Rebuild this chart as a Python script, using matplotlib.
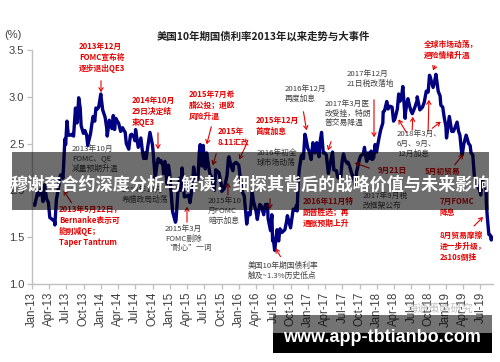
import matplotlib
matplotlib.use("Agg")
import matplotlib.pyplot as plt
import matplotlib.dates as mdates
from matplotlib.patches import Rectangle
import pandas as pd

W, H = 500, 362
CJK = ['Noto Sans CJK SC', 'DejaVu Sans']
LAT = ['Liberation Sans', 'DejaVu Sans']

dates = [
 "2013-01-02","2013-01-15","2013-01-31","2013-02-08","2013-02-20","2013-02-28","2013-03-08","2013-03-19","2013-03-29",
 "2013-04-05","2013-04-18","2013-04-30","2013-05-02","2013-05-10","2013-05-22","2013-05-31","2013-06-07","2013-06-14",
 "2013-06-24","2013-06-28","2013-07-05","2013-07-12","2013-07-24","2013-07-31","2013-08-09","2013-08-19","2013-08-27",
 "2013-08-30","2013-09-05","2013-09-13","2013-09-18","2013-09-30","2013-10-08","2013-10-17","2013-10-23","2013-10-31",
 "2013-11-07","2013-11-13","2013-11-20","2013-11-29","2013-12-05","2013-12-13","2013-12-20","2013-12-31",
 "2014-01-02","2014-01-10","2014-01-23","2014-01-31","2014-02-03","2014-02-14","2014-02-28","2014-03-07","2014-03-14",
 "2014-03-20","2014-03-31","2014-04-04","2014-04-15","2014-04-25","2014-04-30","2014-05-09","2014-05-15","2014-05-28",
 "2014-05-30","2014-06-06","2014-06-12","2014-06-24","2014-06-30","2014-07-03","2014-07-17","2014-07-31","2014-08-08",
 "2014-08-15","2014-08-22","2014-08-28","2014-09-05","2014-09-17","2014-09-30","2014-10-03","2014-10-15","2014-10-24",
 "2014-10-31","2014-11-07","2014-11-14","2014-11-25","2014-11-28","2014-12-05","2014-12-16","2014-12-24","2014-12-31",
 "2015-01-02","2015-01-15","2015-01-30","2015-02-02","2015-02-13","2015-02-20","2015-02-27","2015-03-06","2015-03-18",
 "2015-03-31","2015-04-10","2015-04-17","2015-04-30","2015-05-06","2015-05-15","2015-05-29","2015-06-05","2015-06-10",
 "2015-06-19","2015-06-26","2015-06-30","2015-07-07","2015-07-14","2015-07-24","2015-07-31","2015-08-11","2015-08-24",
 "2015-08-31","2015-09-11","2015-09-17","2015-09-30","2015-10-02","2015-10-15","2015-10-30","2015-11-06","2015-11-09",
 "2015-11-20","2015-11-30","2015-12-04","2015-12-16","2015-12-31",
 "2016-01-08","2016-01-20","2016-01-29","2016-02-11","2016-02-19","2016-02-29","2016-03-11","2016-03-18","2016-03-31",
 "2016-04-07","2016-04-20","2016-04-29","2016-05-11","2016-05-20","2016-05-31","2016-06-03","2016-06-16","2016-06-23",
 "2016-06-27","2016-06-30","2016-07-08","2016-07-20","2016-07-29","2016-08-05","2016-08-15","2016-08-31","2016-09-09",
 "2016-09-13","2016-09-30","2016-10-14","2016-10-26","2016-10-31","2016-11-04","2016-11-09","2016-11-15","2016-11-25",
 "2016-11-30","2016-12-07","2016-12-15","2016-12-20","2016-12-30",
 "2017-01-06","2017-01-17","2017-01-26","2017-01-31","2017-02-07","2017-02-15","2017-02-28","2017-03-03","2017-03-13",
 "2017-03-22","2017-03-31","2017-04-07","2017-04-18","2017-04-28","2017-05-10","2017-05-17","2017-05-31","2017-06-06",
 "2017-06-14","2017-06-23","2017-06-30","2017-07-07","2017-07-14","2017-07-26","2017-07-31","2017-08-08","2017-08-18",
 "2017-08-31","2017-09-07","2017-09-15","2017-09-29","2017-10-06","2017-10-20","2017-10-26","2017-10-31","2017-11-07",
 "2017-11-14","2017-11-24","2017-11-30","2017-12-06","2017-12-14","2017-12-21","2017-12-29",
 "2018-01-02","2018-01-10","2018-01-19","2018-01-31","2018-02-02","2018-02-09","2018-02-21","2018-02-28","2018-03-09",
 "2018-03-21","2018-03-29","2018-04-06","2018-04-18","2018-04-25","2018-04-30","2018-05-08","2018-05-17","2018-05-29",
 "2018-05-31","2018-06-08","2018-06-13","2018-06-22","2018-06-29","2018-07-06","2018-07-20","2018-07-31","2018-08-01",
 "2018-08-15","2018-08-29","2018-09-07","2018-09-18","2018-09-28","2018-10-05","2018-10-09","2018-10-24","2018-10-31",
 "2018-11-08","2018-11-20","2018-11-30","2018-12-04","2018-12-14","2018-12-21","2018-12-31",
 "2019-01-03","2019-01-18","2019-01-31","2019-02-08","2019-02-15","2019-02-28","2019-03-08","2019-03-15","2019-03-22",
 "2019-03-27","2019-04-05","2019-04-17","2019-04-30","2019-05-08","2019-05-13","2019-05-22","2019-05-31","2019-06-07",
 "2019-06-20","2019-06-28","2019-07-03","2019-07-12","2019-07-24","2019-07-31","2019-08-02","2019-08-07","2019-08-15",
 "2019-08-23","2019-08-28","2019-08-30",
]
yields = [
 1.86,1.84,1.98,1.95,2.02,1.88,2.06,1.91,1.87,
 1.71,1.69,1.67,1.63,1.90,2.04,2.16,2.17,2.13,
 2.55,2.49,2.74,2.59,2.59,2.60,2.58,2.88,2.72,
 2.78,2.99,2.88,2.69,2.61,2.64,2.59,2.48,2.55,
 2.61,2.70,2.79,2.74,2.88,2.87,2.89,3.03,
 2.99,2.86,2.78,2.67,2.58,2.75,2.66,2.80,2.65,
 2.77,2.73,2.72,2.63,2.67,2.65,2.62,2.50,2.44,
 2.48,2.59,2.60,2.57,2.53,2.65,2.46,2.56,2.42,
 2.34,2.40,2.34,2.46,2.62,2.49,2.43,2.13,2.27,
 2.34,2.30,2.32,2.26,2.18,2.31,2.07,2.27,2.17,
 2.11,1.77,1.66,1.68,2.02,2.13,2.00,2.24,1.93,
 1.94,1.95,1.87,2.05,2.25,2.14,2.12,2.41,2.49,
 2.26,2.48,2.35,2.23,2.40,2.26,2.18,2.13,2.00,
 2.22,2.20,2.19,2.06,1.99,2.02,2.16,2.34,2.36,
 2.26,2.21,2.28,2.30,2.27,
 2.13,1.98,1.94,1.64,1.76,1.74,1.98,1.88,1.78,
 1.69,1.85,1.83,1.74,1.85,1.85,1.70,1.57,1.74,
 1.46,1.49,1.36,1.58,1.46,1.59,1.55,1.58,1.67,
 1.73,1.60,1.80,1.79,1.84,1.78,2.07,2.22,2.36,
 2.38,2.34,2.60,2.56,2.45,
 2.42,2.33,2.51,2.45,2.40,2.51,2.36,2.49,2.62,
 2.40,2.40,2.38,2.18,2.29,2.41,2.22,2.21,2.14,
 2.13,2.15,2.31,2.39,2.33,2.29,2.30,2.26,2.19,
 2.12,2.05,2.20,2.33,2.37,2.39,2.46,2.38,2.31,
 2.40,2.34,2.42,2.33,2.35,2.49,2.41,
 2.46,2.55,2.64,2.72,2.84,2.85,2.95,2.87,2.90,
 2.89,2.74,2.77,2.87,3.03,2.95,2.97,3.11,2.77,
 2.83,2.94,2.98,2.90,2.85,2.82,2.89,2.96,3.00,
 2.86,2.89,2.94,3.06,3.05,3.23,3.21,3.10,3.15,
 3.24,3.06,3.01,2.91,2.89,2.79,2.68,
 2.56,2.79,2.63,2.63,2.66,2.73,2.63,2.59,2.44,
 2.38,2.50,2.59,2.50,2.48,2.40,2.38,2.13,2.08,
 2.03,2.00,1.95,2.12,2.04,2.02,1.86,1.71,1.53,
 1.52,1.47,1.50,
]

y_ticks = [1.0, 1.5, 2.0, 2.5, 3.0, 3.5]
title = "美国10年期国债利率2013年以来走势与大事件"
banner = "穆谢奎合约深度分析与解读：细探其背后的战略价值与未来影响"
site = "www.app-tbtianbo.com"

RED = "#e60000"
GRAY = "#404040"

# (x, y top in px, text, color, bold)
notes = [
 (79, 42, "2013年12月\nFOMC宣布将\n逐步退出QE3", RED, True),
 (132, 96, "2014年10月\n29日决定结\n束QE3", RED, True),
 (189, 90, "2015年7月希\n腊公投；退欧\n风险升温", RED, True),
 (218, 127, "2015年\n8.11汇改", RED, True),
 (256, 116, "2015年12月\n首度加息", RED, True),
 (424, 40, "全球市场动荡，\n避险情绪升温", RED, True),
 (59, 205, "2013年5月22日，\nBernanke表示可\n能削减QE；\nTaper Tantrum", RED, True),
 (303, 197, "2016年11月特\n朗普胜选；再\n通胀预期上升", RED, True),
 (440, 197, "7月FOMC\n降息", RED, True),
 (440, 231, "8月贸易摩擦\n进一步升级，\n2s10s倒挂", RED, True),
 (378, 166, "9月21日", RED, True),
 (425, 167, "5月初贸易", RED, True),
 (72, 145, "2013年10月\nFOMC、QE\n减量预期升温", GRAY, False),
 (122, 186, "2014年12月\n希腊政局动荡", GRAY, False),
 (165, 225, "2015年3月\nFOMC删除\n“耐心”一词", GRAY, False),
 (208, 197, "2015年10\n月FOMC\n暗示加息", GRAY, False),
 (285, 85, "2016年12月\n再度加息", GRAY, False),
 (325, 100, "2017年3月医\n改受挫，特朗\n普交易降温", GRAY, False),
 (347, 70, "2017年12月\n21日税改落地", GRAY, False),
 (397, 130, "2018年3月、\n6月、9月、\n12月加息", GRAY, False),
 (257, 149, "2016年初全\n球市场动荡", GRAY, False),
 (363, 192, "2017年9月税\n改框架公布", GRAY, False),
 (248, 262, "美国10年期国债利率\n触及~1.3%历史低点", GRAY, False),
]
# arrows: start px -> tip px
arrows = [
 ((101, 78), (101, 95), RED), ((158, 130), (158, 152), RED), ((212, 124), (206, 147), RED),
 ((217, 151), (212, 168), RED), ((248, 141), (238, 162), RED), ((436, 63), (432, 73), RED),
 ((73, 205), (62, 188), RED), ((270, 196), (270, 212), RED), ((472, 228), (485, 215), RED),
 ((372, 169), (352, 162), RED), ((453, 167), (465, 152), RED),
 ((187, 225), (187, 204), RED), ((228, 198), (228, 180), RED),
 ((303, 109), (307, 133), RED), ((332, 139), (327, 153), RED), ((374, 97), (374, 140), RED),
 ((408, 135), (397, 117), RED), ((412, 133), (413, 114), RED), ((428, 134), (429, 97), RED),
 ((430, 130), (443, 120), RED), ((282, 259), (274, 246), RED),
]

def fxy(px, py):
    return (px / W, 1 - py / H)

fig = plt.figure(figsize=(W / 100, H / 100), dpi=100)
ax = fig.add_axes([32 / W, 1 - 284 / H, (493 - 32) / W, (284 - 50) / H])

x = pd.to_datetime(dates)
ax.plot(x, yields, color="#000080", lw=2.4, solid_joinstyle="round")

ax.set_ylim(1.0, 3.5)
ax.set_xlim(pd.Timestamp("2013-01-01"), pd.Timestamp("2019-09-06"))
ax.set_yticks(y_ticks)
ax.set_yticklabels([f"{v:.1f}" for v in y_ticks], family=LAT, fontsize=8, color="#404040")
ax.xaxis.set_major_locator(mdates.MonthLocator(bymonth=[1, 4, 7, 10]))
ax.xaxis.set_major_formatter(mdates.DateFormatter("%b-%y"))
for lab in ax.get_xticklabels():
    lab.set_family(LAT)
plt.setp(ax.get_xticklabels(), rotation=90, fontsize=8.3, color="#404040")
ax.tick_params(axis="both", direction="out", length=3.5, width=0.9, color="#bfbfbf", pad=2)
for s in ["top", "right"]:
    ax.spines[s].set_visible(False)
for s in ["left", "bottom"]:
    ax.spines[s].set_color("#bfbfbf")
    ax.spines[s].set_linewidth(1.0)

for (px, py, txt, col, bold) in notes:
    fig.text(*fxy(px, py), txt, color=col, family=CJK, fontsize=5.6,
             fontweight="bold" if bold else "normal", ha="left", va="top", linespacing=1.28)
for (s, t, col) in arrows:
    fig.add_artist(matplotlib.patches.FancyArrowPatch(fxy(*s), fxy(*t), transform=fig.transFigure,
                   arrowstyle="->,head_length=2.5,head_width=1.5", color=col, lw=0.8))

fig.text(*fxy(263, 36), title, family=CJK, fontsize=7.5, fontweight="bold", color="#202020",
         ha="center", va="center")
fig.text(*fxy(4, 35), "(%)", family=LAT, fontsize=8, color="#404040", ha="left", va="center")

fig.text(*fxy(440, 308), "海通策略研究", family=CJK, fontsize=8, color="#999999", alpha=0.6,
         ha="center", va="center")

# banner overlay
fig.add_artist(Rectangle(fxy(12, 210), 477 / W, 58 / H, transform=fig.transFigure,
                         facecolor="black", alpha=0.57, edgecolor="none", zorder=10))
fig.text(*fxy(250, 185), banner, family=CJK, fontsize=12.3, fontweight="bold", color="white",
         ha="center", va="center", zorder=11)

# site watermark
fig.add_artist(Rectangle(fxy(273, 333), 219 / W, 18 / H, transform=fig.transFigure,
                         facecolor="black", alpha=0.55, edgecolor="none", zorder=10))
fig.add_artist(Rectangle(fxy(273, 353), 219 / W, 20 / H, transform=fig.transFigure,
                         facecolor="black", edgecolor="none", zorder=10))
fig.text(*fxy(382, 337), site, family=LAT, fontsize=13, fontweight="bold", color="white",
         ha="center", va="center", zorder=11)

fig.savefig("out.png", dpi=100)
